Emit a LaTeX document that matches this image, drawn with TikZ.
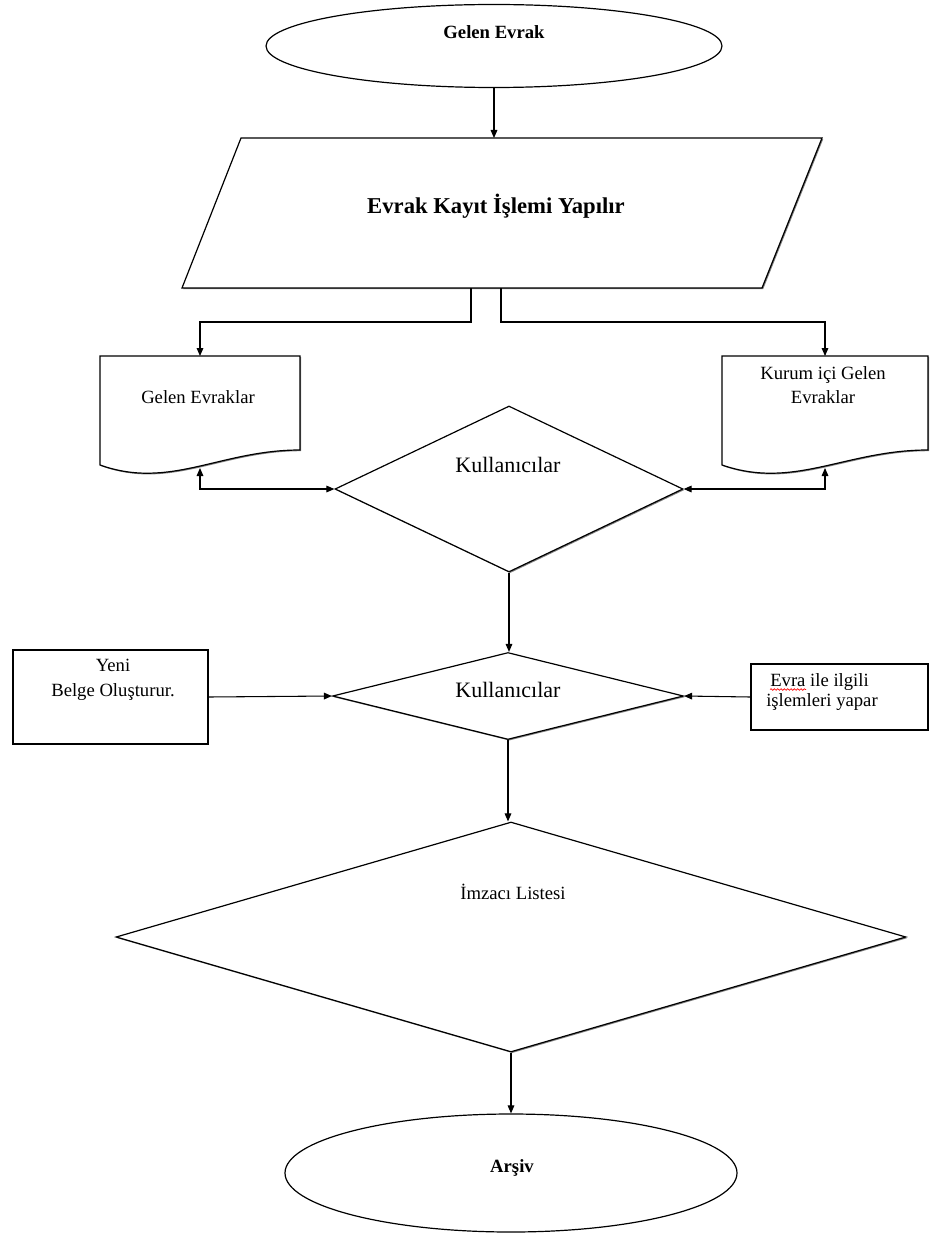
\documentclass[tikz,border=0pt]{standalone}
\usepackage{fontspec}
\setmainfont{Liberation Serif}
\usetikzlibrary{shapes.geometric,arrows.meta,shadows,decorations.pathmorphing}

% document symbol: flat top, wavy bottom, drawn from the north west corner of a node
\newcommand{\docoutline}[2]{%
  \draw[outline, shd, shift={(#1.north west)}]
    (0,0) -- (#2,0) -- (#2,94)
    .. controls ({0.6*#2},94) and ({0.35*#2},134) .. (0,109) -- cycle;}

\begin{document}
\begin{tikzpicture}[x=0.75pt,y=-0.75pt,
  outline/.style={draw=black, line width=0.9pt, fill=white},
  shd/.style={drop shadow={shadow xshift=0.9pt,shadow yshift=-0.9pt,fill=black!55,opacity=0.9}},
  terminal/.style={outline, ellipse, inner sep=0pt},
  decision/.style={outline, diamond, inner sep=0pt},
  procbox/.style={outline, rectangle, inner sep=0pt},
  ghost/.style={rectangle, inner sep=0pt, outer sep=0pt},
  txt/.style={font=\fontsize{14}{18.5}\selectfont, align=center, inner sep=0pt},
  btxt/.style={font=\bfseries\fontsize{14}{17}\selectfont, inner sep=0pt},
  bigtxt/.style={font=\fontsize{16.5}{20}\selectfont, inner sep=0pt},
  link/.style={line width=0.8pt, -{Triangle[length=6pt,width=5pt]}},
  twoway/.style={line width=0.8pt, {Triangle[length=6pt,width=5pt]}-{Triangle[length=6pt,width=5pt]}}
]
\useasboundingbox (0,0) rectangle (931,1234);

% start terminal
\node[terminal, minimum width=342pt, minimum height=62.25pt] (start) at (494,46) {};
\node[btxt] (startText) at (494,32) {Gelen Evrak};

% registration step (parallelogram)
\draw[outline, shd] (241,138) coordinate (pTL) -- (822,138) coordinate (pTR)
  -- (762,288) coordinate (pBR) -- (182,288) coordinate (pBL) -- cycle;
\node[font=\bfseries\fontsize{17}{20}\selectfont, inner sep=0pt] (regText) at (496,206) {Evrak Kayıt İşlemi Yapılır};

% incoming document stores
\node[ghost, minimum width=150pt, minimum height=84pt, anchor=north] (docL) at (200,356) {};
\docoutline{docL}{200}
\node[txt] (docLText) at (198,397) {Gelen Evraklar};

\node[ghost, minimum width=154.5pt, minimum height=84pt, anchor=north] (docR) at (825,356) {};
\docoutline{docR}{206}
\node[txt, font=\fontsize{14}{18}\selectfont] (docRText) at (823,385) {Kurum içi Gelen\\Evraklar};

% users
\node[decision, shd, minimum width=261pt, minimum height=124.5pt] (usersA) at (509,489) {};
\node[bigtxt] (usersAText) at (508,465) {Kullanıcılar};

\node[decision, shd, minimum width=263.25pt, minimum height=65.25pt] (usersB) at (508,696) {};
\node[bigtxt] (usersBText) at (508,690) {Kullanıcılar};

% side actions
\node[procbox, minimum width=146.25pt, minimum height=70.5pt] (newDoc) at (110.5,697) {};
\node[txt] (newDocText) at (113,679.5) {Yeni\\Belge Oluşturur.};

\node[procbox, minimum width=132.75pt, minimum height=49.5pt] (docOps) at (839.5,697) {};
\node[font=\fontsize{14}{15}\selectfont, align=left, anchor=west, inner sep=0pt] (docOpsText) at (766,692) {\hspace{3pt}Evra ile ilgili\\işlemleri yapar};
\draw[red, line width=0.5pt, decorate, decoration={snake, amplitude=0.6pt, segment length=2.5pt}] (770,689.5) -- (806,689.5);

% signer list
\node[decision, shd, minimum width=592.5pt, minimum height=172.5pt] (signers) at (511,937) {};
\node[txt] (signersText) at (513,892) {İmzacı Listesi};

% end terminal
\node[terminal, minimum width=339pt, minimum height=88.5pt] (archive) at (511,1173) {};
\node[btxt] (archiveText) at (512,1168) {Arşiv};

% connectors
\draw[link] (start.south) -- (start.south |- pTL);
\draw[link] (471,0 |- pBL) -- (471,322) -| (docL.north);
\draw[link] (501,0 |- pBL) -- (501,322) -| (docR.north);
\draw[twoway] (docL.south) |- (usersA.west);
\draw[twoway] (docR.south) |- (usersA.east);
\draw[link] (usersA.south) -- (usersA.south |- usersB.north);
\draw[link] (newDoc.east) -- (usersB.west);
\draw[link] (docOps.west) -- (usersB.east);
\draw[link] (usersB.south) -- (usersB.south |- signers.north);
\draw[link] (signers.south) -- (signers.south |- archive.north);
\end{tikzpicture}
\end{document}
